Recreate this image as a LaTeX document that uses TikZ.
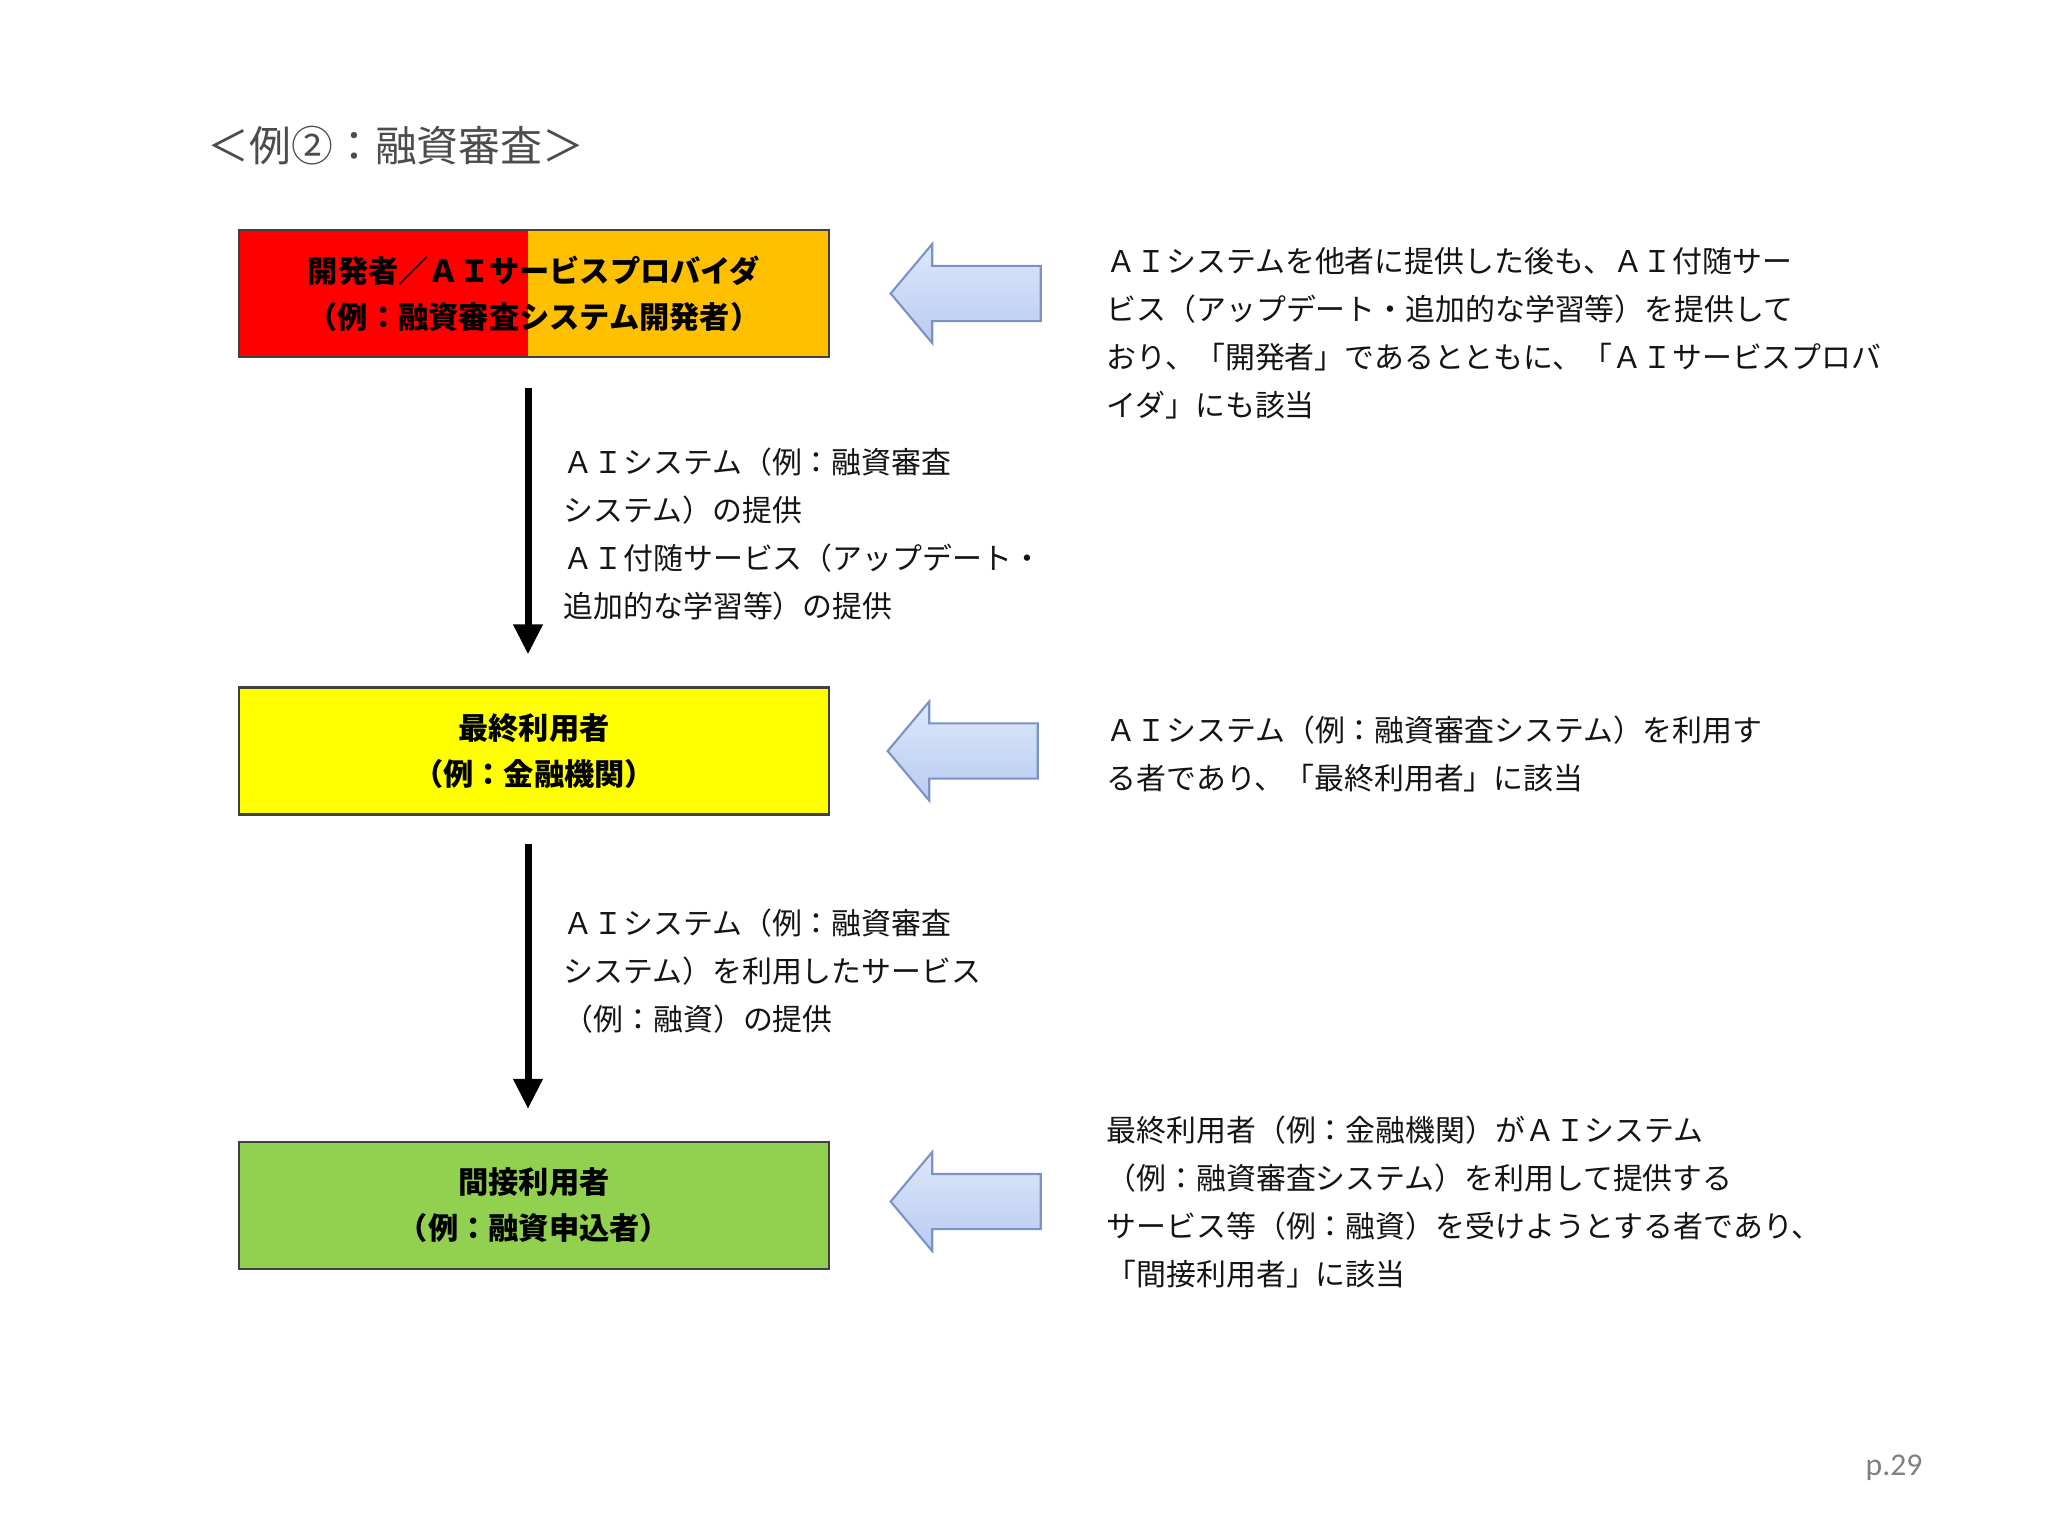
\documentclass[tikz,border=0pt]{standalone}
\usepackage{fontspec}
\usepackage{xcolor}
\usepackage{tikz}
\usetikzlibrary{arrows.meta, positioning, shapes.arrows}

\newfontfamily\jpfont{Noto Sans CJK JP}
\newfontfamily\pagefont{Carlito}

\definecolor{devred}{RGB}{255,0,0}
\definecolor{devorange}{RGB}{255,192,0}
\definecolor{useryellow}{RGB}{255,255,0}
\definecolor{indgreen}{RGB}{146,208,80}
\definecolor{pointertop}{RGB}{220,231,250}
\definecolor{pointerbottom}{RGB}{184,204,240}
\definecolor{pointerline}{RGB}{122,146,196}

\begin{document}
\begin{tikzpicture}[
          x=0.01cm, y=-0.01cm,
          every node/.style={inner sep=0pt, font=\jpfont},
          role/.style={draw=black!75, line width=0.6pt, minimum width=5.9cm, minimum height=1.27cm,
            align=center, font=\jpfont\bfseries\fontsize{8.6}{13.1}\selectfont},
          note/.style={anchor=north west, align=left, text=black!92,
            font=\jpfont\fontsize{8.5}{13.65}\selectfont},
          pointer/.style={single arrow, shape border rotate=180, draw=pointerline, line width=0.6pt,
            top color=pointertop, bottom color=pointerbottom,
            minimum height=1.5cm, minimum width=0.97cm, inner xsep=0pt, inner ysep=0.265cm,
            single arrow head extend=0.22cm, single arrow tip angle=100},
          link/.style={line width=0.07cm, -{Triangle[length=0.3cm, width=0.28cm]}}
        ]
          \useasboundingbox (0,0) rectangle (2048,1536);
          \fill[white] (0,0) rectangle (2048,1536);

          % title
          \node[anchor=west, text=black!70, font=\jpfont\fontsize{11.9}{14}\selectfont] (title) at (207,146) {＜例②：融資審査＞};

          % the three roles
          \node[role, fill=devorange,
            path picture={\fill[devred] (path picture bounding box.south west) rectangle ([xshift=-0.06cm]path picture bounding box.north);}]
            (dev) at (534,293.5) {開発者／ＡＩサービスプロバイダ\\（例：融資審査システム開発者）};
          \node[role, fill=useryellow] (user) at (534,751) {最終利用者\\（例：金融機関）};
          \node[role, fill=indgreen] (indirect) at (534,1205.5) {間接利用者\\（例：融資申込者）};

          % what is handed down
          \draw[link, shorten <=0.3cm, shorten >=0.32cm] ([xshift=-0.06cm]dev.south) -- ([xshift=-0.06cm]user.north);
          \draw[link, shorten <=0.28cm, shorten >=0.32cm] ([xshift=-0.06cm]user.south) -- ([xshift=-0.06cm]indirect.north);
          \node[note] (devlink) at (563,447) {ＡＩシステム（例：融資審査\\システム）の提供\\ＡＩ付随サービス（アップデート・\\追加的な学習等）の提供};
          \node[note] (userlink) at (563,908) {ＡＩシステム（例：融資審査\\システム）を利用したサービス\\（例：融資）の提供};

          % explanations
          \node[pointer, right=0.59cm of dev] (devptr) {};
          \node[pointer, right=0.56cm of user] (userptr) {};
          \node[pointer, right=0.59cm of indirect, yshift=0.04cm] (indptr) {};
          \node[note] (devnote) at (1106,247) {ＡＩシステムを他者に提供した後も、ＡＩ付随サー\\ビス（アップデート・追加的な学習等）を提供して\\おり、「開発者」であるとともに、「ＡＩサービスプロバ\\イダ」にも該当};
          \node[note] (usernote) at (1106,715) {ＡＩシステム（例：融資審査システム）を利用す\\る者であり、「最終利用者」に該当};
          \node[note] (indnote) at (1106,1115) {最終利用者（例：金融機関）がＡＩシステム\\（例：融資審査システム）を利用して提供する\\サービス等（例：融資）を受けようとする者であり、\\「間接利用者」に該当};

          % page number
          \node[anchor=base west, text=black!50, font=\pagefont\fontsize{9}{11}\selectfont] (page) at (1865,1475) {p.29};
        \end{tikzpicture}
\end{document}
